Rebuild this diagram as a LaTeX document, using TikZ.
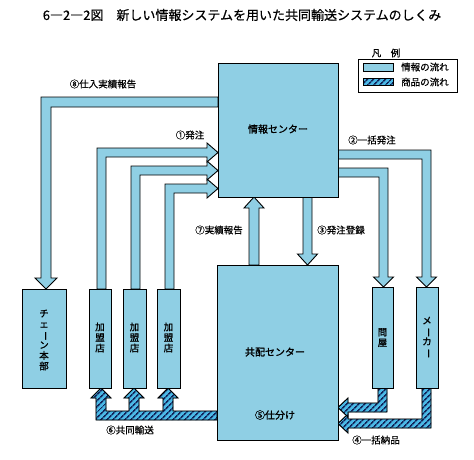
\documentclass[tikz,border=0pt]{standalone}
\usepackage{fontspec}
\usepackage{graphicx}
\usetikzlibrary{patterns.meta}
\newfontfamily\jp{Noto Sans CJK JP}
\newfontfamily\jpm{Noto Sans CJK JP}[FakeBold=0.5]
\newfontfamily\jpb{Noto Sans CJK JP}[FakeBold=1.3]
\definecolor{infoblue}{RGB}{143,207,228}
\definecolor{hatchbg}{RGB}{75,185,230}
\definecolor{hatchfg}{RGB}{18,36,90}
\newcommand{\vbar}{\makebox[1em][c]{\rotatebox[origin=c]{-90}{ー}}}
\tikzset{
  box/.style={draw=black, line width=1pt, fill=infoblue, inner sep=0pt},
  infoarrow/.style={draw=black, line width=0.9pt, fill=infoblue, line join=miter},
  goods/.style={fill=hatchbg,
    postaction={pattern={Lines[angle=45,distance=4pt,line width=1.7pt]}, pattern color=hatchfg},
    postaction={draw=black, line width=0.9pt}},
  lbl/.style={font=\jpm\fontsize{9.5}{11}\selectfont, inner sep=0pt},
  blbl/.style={font=\jpb\fontsize{10}{11}\selectfont, inner sep=0pt},
  vlbl/.style={font=\jpb\fontsize{9.5}{10.5}\selectfont, align=center, inner sep=0pt},
}
\begin{document}
\begin{tikzpicture}[x=1pt,y=-1pt]
\useasboundingbox (0,0) rectangle (474,459);

% title
\node[font=\jpm\fontsize{13}{15}\selectfont, inner sep=0pt] (title) at (242,15)
  {6―2―2図\quad 新しい情報システムを用いた共同輸送システムのしくみ};

% legend
\node[lbl] (legtitle) at (386,53) {凡\quad 例};
\node[draw=black, line width=0.6pt, minimum width=99pt, minimum height=33pt, inner sep=0pt] (legbox) at (407.5,75.5) {};
\node[infoarrow, minimum width=30pt, minimum height=8pt, inner sep=0pt] (leginfo) at (378,67) {};
\node[goods, minimum width=30pt, minimum height=7pt, inner sep=0pt] (leggoods) at (378,81.5) {};
\node[lbl, anchor=west] (leginfot) at (401,67) {情報の流れ};
\node[lbl, anchor=west] (leggoodst) at (401,82) {商品の流れ};

% ---- information arrows ----
% (8) report to chain HQ
\draw[infoarrow] (218,97) -- (41,97) -- (41,278) -- (35,278) -- (46,289) -- (57,278) -- (51,278) -- (51,107) -- (218,107) -- cycle;
% (1) orders from franchise stores
\draw[infoarrow] (165,289) -- (165,184) -- (207,184) -- (207,179) -- (218,188.5) -- (207,198) -- (207,193) -- (174,193) -- (174,289) -- cycle;
\draw[infoarrow] (131,289) -- (131,166) -- (207,166) -- (207,161) -- (218,170.5) -- (207,180) -- (207,175) -- (140,175) -- (140,289) -- cycle;
\draw[infoarrow] (97,289) -- (97,148) -- (207,148) -- (207,143) -- (218,152.5) -- (207,162) -- (207,157) -- (106,157) -- (106,289) -- cycle;
% (2) bulk orders
\draw[infoarrow] (338,150) -- (431,150) -- (431,277) -- (436.5,277) -- (426.5,287) -- (416.5,277) -- (422,277) -- (422,159) -- (338,159) -- cycle;
\draw[infoarrow] (338,168) -- (388,168) -- (388,277) -- (393.5,277) -- (383.5,287) -- (373.5,277) -- (379,277) -- (379,177) -- (338,177) -- cycle;
% (7) results report
\draw[infoarrow] (249,265) -- (249,208) -- (244,208) -- (254,197) -- (264,208) -- (259,208) -- (259,265) -- cycle;
% (3) order registration
\draw[infoarrow] (303,197) -- (303,254) -- (297.5,254) -- (307.5,265) -- (317.5,254) -- (312,254) -- (312,197) -- cycle;

% ---- goods arrows ----
% (6) joint delivery
\draw[goods] (217,411) -- (173,411) -- (173,398) -- (178,398) -- (168,388) -- (158,398) -- (163,398) -- (163,411)
  -- (139,411) -- (139,398) -- (144,398) -- (134,388) -- (124,398) -- (129,398) -- (129,411)
  -- (106,411) -- (106,398) -- (111,398) -- (101,388) -- (91,398) -- (96,398) -- (96,420) -- (217,420) -- cycle;
% (4) bulk delivery
\draw[goods] (431,388) -- (431,428) -- (348,428) -- (348,433) -- (338,423.5) -- (348,414) -- (348,419) -- (422,419) -- (422,388) -- cycle;
\draw[goods] (387,388) -- (387,412) -- (348,412) -- (348,417) -- (338,407.5) -- (348,398) -- (348,403) -- (378,403) -- (378,388) -- cycle;

% ---- boxes ----
\node[box, minimum width=120pt, minimum height=134pt] (info) at (278,130) {};
\node[blbl] (infot) at (278,129) {情報センター};
\node[box, minimum width=121pt, minimum height=175pt] (kyohai) at (277.5,352.5) {};
\node[blbl] (kyohait) at (275,352) {共配センター};
\node[blbl] (shiwake) at (275,415) {⑤仕分け};

\node[box, minimum width=44pt, minimum height=99pt] (hq) at (44,338.5) {};
\node[vlbl] (hqt) at (44,340) {チ\\ェ\\\vbar\\ン\\本\\部};
\node[box, minimum width=22pt, minimum height=99pt] (k1) at (100,338.5) {};
\node[vlbl] (k1t) at (100,337.5) {加\\盟\\店};
\node[box, minimum width=23pt, minimum height=99pt] (k2) at (134.5,338.5) {};
\node[vlbl] (k2t) at (134.5,337.5) {加\\盟\\店};
\node[box, minimum width=23pt, minimum height=99pt] (k3) at (168.5,338.5) {};
\node[vlbl] (k3t) at (168.5,337.5) {加\\盟\\店};
\node[box, minimum width=21pt, minimum height=101pt] (ton) at (382.5,337.5) {};
\node[vlbl] (tont) at (382.5,337.5) {問\\屋};
\node[box, minimum width=22pt, minimum height=101pt] (mk) at (427,337.5) {};
\node[vlbl] (mkt) at (427,337.5) {メ\\\vbar\\カ\\\vbar};

% ---- labels ----
\node[lbl] (l8) at (103,84) {⑧仕入実績報告};
\node[lbl] (l1) at (190,135) {①発注};
\node[lbl] (l2) at (372,140) {②一括発注};
\node[lbl] (l7) at (219,230) {⑦実績報告};
\node[lbl] (l3) at (341,230) {③発注登録};
\node[lbl] (l6) at (130,430) {⑥共同輸送};
\node[lbl] (l4) at (376,440) {④一括納品};
\end{tikzpicture}
\end{document}
